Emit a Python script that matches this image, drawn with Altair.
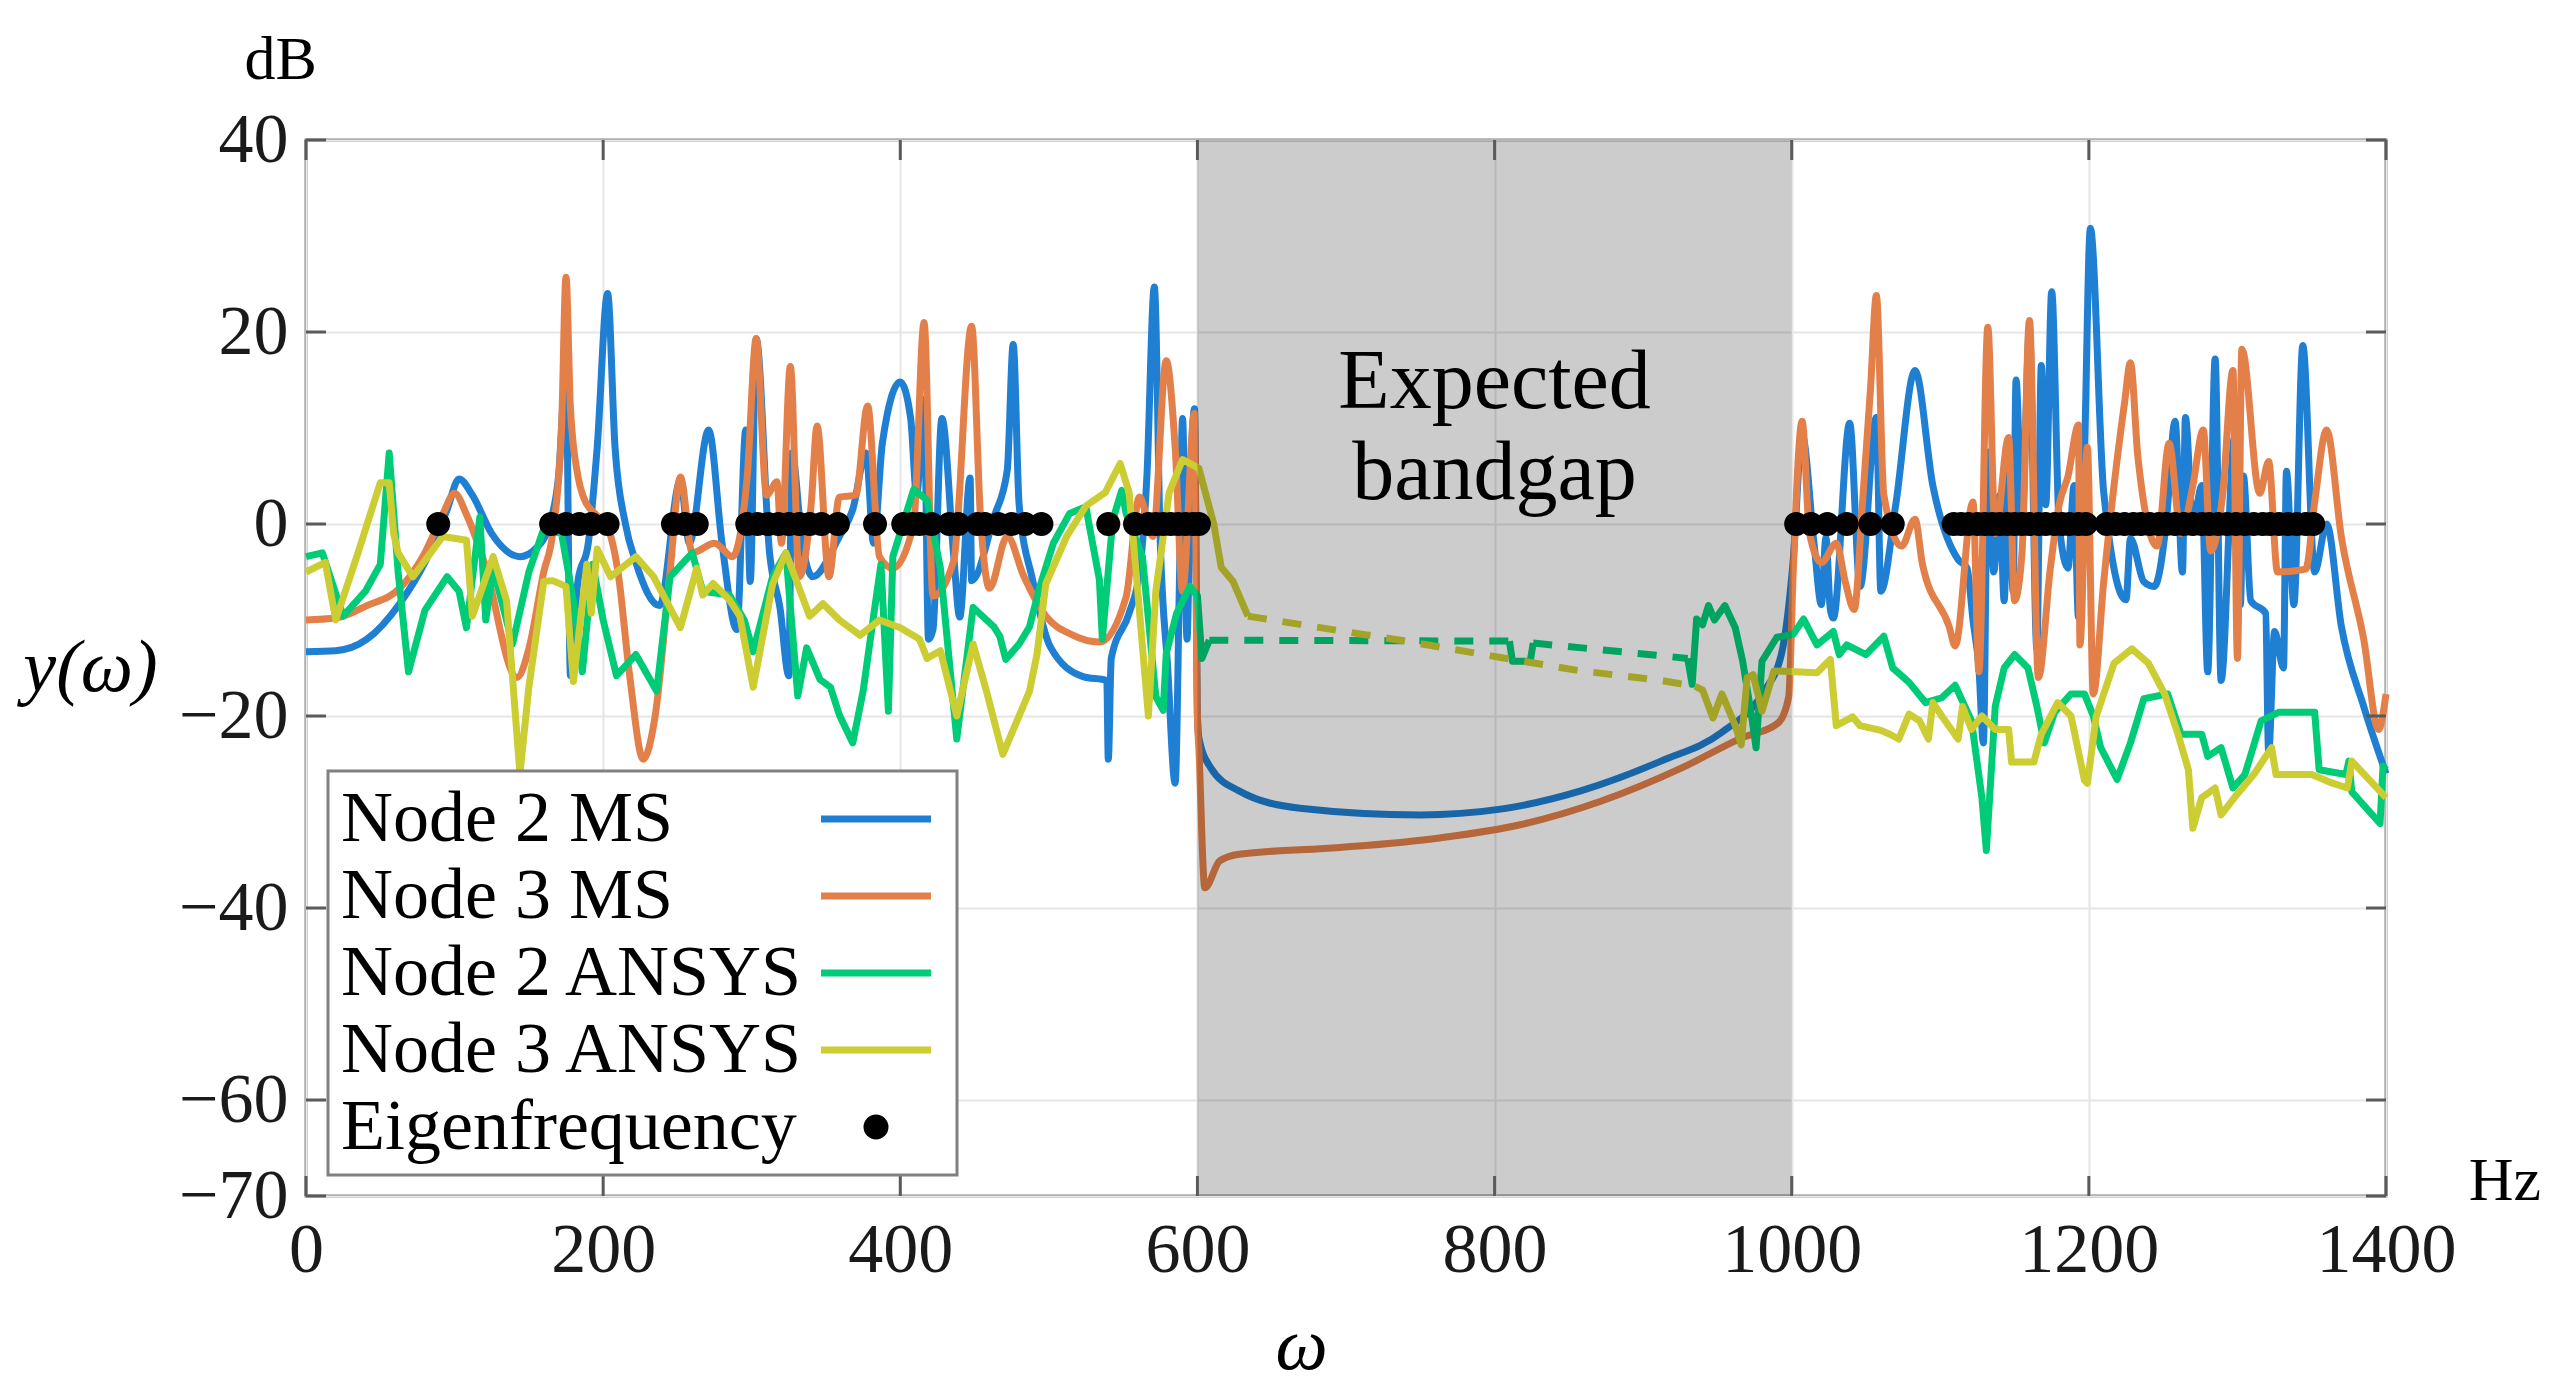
import altair as alt
import pandas as pd

FONT = "Liberation Serif"

SERIES = ["Node 2 MS", "Node 3 MS", "Node 2 ANSYS", "Node 3 ANSYS", "Eigenfrequency"]
COLORS = ["#1f7fd2", "#e3804a", "#00cc77", "#cccc33", "#000000"]
LINE_PATH = "M-2,0L2,0"
DOT_PATH = "M-0.327,0A0.327,0.327,0,1,0,0.327,0A0.327,0.327,0,1,0,-0.327,0Z"
SHAPES = [LINE_PATH, LINE_PATH, LINE_PATH, LINE_PATH, DOT_PATH]

X_TICKS = [0, 200, 400, 600, 800, 1000, 1200, 1400]
Y_TICKS = [-70, -60, -40, -20, 0, 20, 40]

# (Hz, dB)
node2_ms = [(0,-13.3),(20,-13.2),(41,-12),(63,-8.3),(80,-4),(95,1.5),(103,4.7),(112,3),(125,-1),(144,-3.4),(155,-2.5),(164,0),(170,5),(175,16),(178,-15.8),(183,-6),(190,-2),(196,8),(203,24),(208,8),(215,0),(222,-4),(238,-8.5),(252,4.5),(258,-2),(271,9.8),(280,-2),(290,-11),(296,9.8),(299,-6),(303,19.3),(312,-3),(319,-8.7),(325,-15.8),(327,7.4),(334,-2),(341,-5.5),(359,-1.3),(368,1.5),(377,7.4),(382,-2),(388,8.5),(400,14.8),(407,11),(411,3),(416,13),(419,-12),(422,-11),(428,11),(436,-3.4),(440,-9.7),(447,4.8),(448,-5.9),(463,0.7),(472,5.6),(476,18.7),(480,2),(489,-5.8),(501,-12.8),(523,-15.9),(539,-16.3),(540,-24.5),(542,-14),(554,-9.3),(561,-5),(566,5),(571,24.7),(575,-2),(580,-15),(585,-27),(588,-5),(590,11),(593,-12),(595,2),(598,12),(600,-20),(601,-22.3),(609,-25.4),(628,-27.8),(669,-29.6),(750,-30.3),(804,-29.7),(858,-27.8),(912,-24.7),(953,-21.7),(980,-17.7),(993,-13.6),(1001,-3.8),(1007,9.3),(1015,-2),(1020,-8.4),(1023,-1.4),(1026,-8.9),(1028,-9.8),(1039,10.5),(1046,-6.5),(1057,11.1),(1060,-7),(1070,2),(1083,16),(1095,4),(1112,-3.7),(1118,-4.6),(1122,-10),(1126,-15),(1129,-22.8),(1132,7.5),(1136,-5),(1140,3),(1143,-8),(1146,8.4),(1149,-7),(1151,15),(1155,0),(1160,20.3),(1165,-13),(1168,16.5),(1171,2),(1175,24.2),(1180,0),(1186,-4.6),(1190,4),(1193,-9.7),(1197,7),(1201,30.8),(1210,3.3),(1225,-7.9),(1228,-1.5),(1237,-6),(1244,-6.5),(1252,0),(1258,10.7),(1263,-5),(1265,11.1),(1270,0),(1276,4),(1280,-15.4),(1285,17.2),(1289,-16.3),(1298,9),(1302,-8.4),(1304,5),(1309,-8),(1319,-9.3),(1321,-23.8),(1325,-11.2),(1331,-15),(1333,5.5),(1338,-8.4),(1344,18.6),(1352,-5),(1360,0),(1370,-10.7),(1385,-19),(1400,-26)]

node3_ms = [(0,-10),(20,-9.8),(41,-8.5),(63,-6.7),(80,-3),(92,1),(100,3.2),(108,1),(120,-4),(142,-16),(150,-13),(160,-5),(166,-1),(172,10),(175,25.7),(178,12),(183,5),(187,2.7),(195,1),(202,0),(210,-5),(218,-16),(227,-24.5),(235,-20),(245,-5),(252,4.9),(260,-3),(275,-2),(287,-3.4),(297,5),(303,19.3),(310,3),(317,4.4),(320,-2),(326,16.4),(332,-5.5),(340,2),(344,10.2),(352,-5.5),(359,2.8),(370,3),(378,12.3),(386,-3.4),(395,-4.6),(409,0),(416,21),(422,-7.5),(436,-3.8),(448,20.6),(454,0.7),(460,-6.7),(472,-1.3),(483,-5.4),(498,-9.6),(515,-11.5),(534,-12.3),(552,-7.6),(561,2.8),(570,-1.3),(579,17),(585,8),(590,-7),(598,11.5),(600,-20),(601,-23.5),(605,-37.9),(615,-35.1),(628,-34.4),(696,-33.7),(763,-32.7),(818,-31.3),(871,-28.9),(926,-25.4),(966,-22.3),(991,-20.7),(998,-18),(1001,-5),(1007,10.7),(1012,-1),(1020,-4),(1030,-2),(1036,-6),(1042,-8.9),(1048,3),(1053,14),(1057,23.8),(1062,3),(1074,-2.3),(1083,0.5),(1088,-4.2),(1106,-10.7),(1110,-12.7),(1122,2.3),(1126,-15.4),(1132,20.5),(1137,-1),(1146,9),(1150,-8),(1155,-3),(1160,21.2),(1166,-16),(1174,-4.7),(1180,2),(1186,5),(1193,10.3),(1194,-12.6),(1199,8),(1203,-17.7),(1210,-6),(1224,12.6),(1228,16.8),(1233,7),(1246,-2.3),(1254,8.4),(1262,-1),(1270,4),(1277,9.8),(1282,-2.8),(1290,3),(1297,16),(1300,-14),(1303,18.2),(1315,3.2),(1321,6.5),(1327,-5),(1346,-4.7),(1352,2.3),(1360,9.8),(1370,-1.4),(1385,-12),(1395,-21.4),(1400,-17.7)]

node2_ansys_a = [(0,-3.4),(11,-3),(25,-9.6),(40,-7),(50,-4.2),(56,7.4),(62,-5),(69,-15.4),(80,-9),(95,-5.5),(103,-7),(108,-10.8),(117,0.7),(121,-10),(126,-4.6),(139,-12.5),(150,-5),(160,-0.5),(172,-1),(180,-8),(186,-15.4),(193,-4.2),(200,-10),(209,-15.8),(222,-13.6),(236,-17.4),(245,-5.5),(260,-3),(267,-7),(285,-7.4),(295,-10),(301,-13.3),(314,-5.5),(323,-3),(331,-17.9),(337,-12.9),(346,-16.2),(353,-17),(359,-19.9),(368,-22.8),(375,-17.4),(382,-9.6),(387,-4.2),(392,-19.5),(395,-3.4),(409,3.6),(418,2.5),(427,-4.6),(438,-22.4),(449,-8.7),(463,-10.7),(467,-11.7),(471,-14.1),(480,-12.5),(487,-10.7),(494,-6.5),(503,-2),(514,1.1),(525,1.8),(527,0),(534,-5.8),(536,-12),(543,0.4),(549,3.5),(552,1.1),(563,-3.4),(572,-18),(577,-19.4),(579,-13.5),(586,-9.3),(595,-6.5),(600,-7.5),(603,-14),(608,-12.1)]
node2_ansys_dash_a = [(608,-12.1),(810,-12.2)]
node2_ansys_b = [(810,-12.2),(812,-14.3),(824,-14.3),(826,-12.4)]
node2_ansys_dash_b = [(826,-12.4),(930,-14.0)]
node2_ansys_c = [(930,-14),(933,-16.7),(936,-9.9),(940,-10.5),(944,-8.5),(948,-10),(955,-8.5),(962,-10.8),(967,-14.3),(973,-20),(976,-23.3),(980,-14.3),(990,-11.8),(1001,-11.5),(1008,-9.9),(1017,-12.6),(1028,-11.2),(1032,-13.6),(1037,-12.6),(1050,-13.6),(1062,-11.7),(1068,-15),(1079,-16.5),(1090,-18.6),(1101,-18.1),(1110,-16.8),(1121,-20.5),(1128,-28.5),(1131,-34),(1137,-19),(1143,-15),(1150,-13.6),(1159,-15),(1165,-19),(1170,-22.8),(1177,-19.6),(1188,-17.7),(1197,-17.7),(1203,-20),(1208,-23.3),(1219,-26.6),(1228,-22.8),(1237,-18.2),(1253,-17.7),(1262,-21.9),(1276,-21.9),(1280,-24.2),(1289,-23.3),(1297,-27.5),(1305,-26.1),(1316,-20.5),(1328,-19.6),(1352,-19.6),(1355,-25.6),(1373,-26.1),(1375,-24.7),(1377,-27.9),(1396,-31.2),(1398,-25.2),(1400,-25.6)]

node3_ansys_a = [(0,-5),(13,-4),(20,-10),(35,-3),(50,4.3),(56,4.3),(59,-1),(62,-3),(72,-5.5),(92,-1.3),(108,-1.7),(112,-9.6),(126,-3.4),(135,-8),(144,-26),(150,-17),(160,-6),(166,-5.9),(175,-6.5),(180,-16.4),(189,-4.2),(192,-9.3),(196,-2.6),(205,-5.5),(222,-3.4),(234,-5.5),(252,-10.8),(263,-4.6),(267,-7.4),(274,-6.2),(285,-7.9),(292,-9.6),(301,-17),(314,-6.3),(323,-3),(339,-9.6),(348,-8.3),(359,-10),(373,-11.6),(386,-10),(400,-10.8),(413,-12),(418,-14),(427,-13.2),(438,-20),(449,-12.5),(458,-17.4),(469,-24),(487,-17.4),(492,-13.6),(498,-6.2),(512,-1.3),(525,1.9),(538,3.3),(548,6.3),(554,3.3),(559,-5.5),(567,-20),(572,-7),(581,3.3),(590,6.7),(601,5.8),(611,0),(616,-4.5),(624,-6),(634,-9.6)]
node3_ansys_dash = [(634,-9.6),(740,-12.2),(804,-13.9),(858,-15.3),(912,-16.3),(935,-16.9)]
node3_ansys_b = [(935,-16.9),(940,-17.3),(947,-20.2),(953,-17.7),(962,-21),(966,-23),(970,-16),(974,-15.7),(980,-19.5),(988,-15.3),(1017,-15.5),(1026,-14.1),(1030,-21),(1041,-20.1),(1046,-21),(1060,-21.5),(1066,-21.9),(1072,-22.4),(1079,-19.8),(1086,-20.5),(1092,-22.4),(1095,-18.6),(1101,-20),(1112,-22.4),(1115,-19),(1121,-21.4),(1128,-20),(1137,-21.4),(1146,-21.4),(1148,-24.8),(1163,-24.8),(1168,-21.9),(1179,-18.6),(1188,-20),(1197,-26.7),(1199,-27),(1205,-20),(1217,-14.5),(1229,-13),(1240,-14.5),(1251,-17.7),(1260,-21.9),(1267,-25.6),(1270,-31.7),(1276,-28.5),(1285,-27.5),(1289,-30.3),(1298,-28.5),(1311,-26.1),(1323,-23.3),(1326,-26.1),(1350,-26.1),(1364,-27),(1374,-27.5),(1377,-24.7),(1400,-28.5)]

eigen_hz = [89,165,175,184,192,203,247,255,263,297,304,311,318,325,332,339,347,358,383,402,408,413,421,433,439,452,457,466,475,484,495,540,558,567,572,577,582,587,592,597,601,
            1003,1013,1024,1037,1053,1068,1109,1114,1119,1125,1130,1135,1140,1145,1150,1155,1160,1166,1171,1177,1182,1187,1193,1198,
            1212,1218,1224,1230,1235,1241,1247,1252,1258,1264,1270,1276,1281,1287,1293,1299,1305,1311,1317,1322,1328,1334,1340,1346,1351]

band = {"start": 600, "end": 1000, "low": -70, "high": 40}
unit_labels = {"t": ["dB", "Hz"], "f": [-17, 1480], "v": [48.3, -68.4]}
band_text = {"t": ["Expected", "bandgap"], "f": [800, 800], "v": [12.1, 2.6]}

X_MIN, X_MAX, Y_MIN, Y_MAX = 0, 1400, -70, 40
W, H = 2080, 1056
TICK_PX = 20
tick_dx = TICK_PX * (X_MAX - X_MIN) / W
tick_dy = TICK_PX * (Y_MAX - Y_MIN) / H


def frame(name, pts, seg):
    return pd.DataFrame({"f": [p[0] for p in pts], "v": [p[1] for p in pts], "s": name, "g": seg})


xaxis = alt.Axis(values=X_TICKS, format="d", title="ω", titleFontStyle="italic", titleFontSize=74,
                 titleX=995, titleY=150, titleBaseline="middle", titleAlign="center",
                 labelPadding=20, labelFlush=False, grid=True)
yaxis = alt.Axis(values=Y_TICKS, format="d", title="y(ω)", titleFontStyle="italic", titleFontSize=74,
                 titleAngle=0, titleX=-216, titleY=528, titleAlign="center", titleBaseline="middle",
                 labelPadding=18, labelFlush=False, grid=True)
X = alt.X("f:Q", scale=alt.Scale(domain=[X_MIN, X_MAX], nice=False, zero=False), axis=xaxis)
Y = alt.Y("v:Q", scale=alt.Scale(domain=[Y_MIN, Y_MAX], nice=False, zero=False), axis=yaxis)

LEG = alt.Legend(title=None, orient="none", legendX=22, legendY=631, symbolOffset=500,
                 labelOffset={"expr": "-571"}, symbolSize=3025, symbolStrokeWidth=7, labelFont=FONT,
                 labelFontSize=72, labelColor="black", labelLimit=1000, rowPadding=5,
                 padding=12, fillColor="white", strokeColor="#808080")
cscale = alt.Scale(domain=SERIES, range=COLORS)
C = alt.Color("s:N", scale=cscale, legend=LEG)
C_nolegend = alt.Color("s:N", scale=cscale, legend=None)


def solid(df, interp):
    return alt.Chart(df).mark_line(strokeWidth=7, interpolate=interp, strokeJoin="round").encode(
        x=X, y=Y, color=C, detail="g:N")


def dashed(df):
    return alt.Chart(df).mark_line(strokeWidth=7, strokeDash=[19, 16]).encode(
        x=X, y=Y, color=C_nolegend, detail="g:N")


l_blue = solid(frame(SERIES[0], node2_ms, "a"), "monotone")
l_orange = solid(frame(SERIES[1], node3_ms, "a"), "monotone")
l_green = solid(pd.concat([frame(SERIES[2], node2_ansys_a, "a"),
                           frame(SERIES[2], node2_ansys_b, "b"),
                           frame(SERIES[2], node2_ansys_c, "c")]), "linear")
l_yellow = solid(pd.concat([frame(SERIES[3], node3_ansys_a, "a"),
                            frame(SERIES[3], node3_ansys_b, "b")]), "linear")
d_green = dashed(pd.concat([frame(SERIES[2], node2_ansys_dash_a, "da"),
                            frame(SERIES[2], node2_ansys_dash_b, "db")]))
d_yellow = dashed(frame(SERIES[3], node3_ansys_dash, "da"))

band_df = pd.DataFrame({"f": [band["start"]], "f2": [band["end"]], "v": [band["low"]], "v2": [band["high"]]})
rect = alt.Chart(band_df).mark_rect(color="black", opacity=0.2).encode(
    x=X, x2="f2:Q", y=Y, y2="v2:Q")

# inward tick marks on all four sides of the box (at the axis tick values)
tick_rows = []
for t in Y_TICKS:
    tick_rows.append({"f": X_MIN, "f2": X_MIN + tick_dx, "v": t, "v2": t})
    tick_rows.append({"f": X_MAX - tick_dx, "f2": X_MAX, "v": t, "v2": t})
for t in X_TICKS:
    tick_rows.append({"f": t, "f2": t, "v": Y_MIN, "v2": Y_MIN + tick_dy})
    tick_rows.append({"f": t, "f2": t, "v": Y_MAX - tick_dy, "v2": Y_MAX})
ticks = alt.Chart(pd.DataFrame(tick_rows)).mark_rule(color="#5a5a5a", strokeWidth=3).encode(
    x=X, x2="f2:Q", y=Y, y2="v2:Q")

eig_df = pd.DataFrame({"f": eigen_hz, "v": [0] * len(eigen_hz), "s": SERIES[4]})
points = alt.Chart(eig_df).mark_point(filled=True, size=3025, strokeWidth=6, opacity=1).encode(
    x=X, y=Y, color=C,
    stroke=alt.Stroke("s:N", scale=alt.Scale(domain=SERIES, range=COLORS), legend=LEG),
    shape=alt.Shape("s:N", scale=alt.Scale(domain=SERIES, range=SHAPES), legend=LEG))

units = alt.Chart(pd.DataFrame(unit_labels)).mark_text(
    font=FONT, fontSize=62, color="black", align="center", baseline="middle").encode(
    x=X, y=Y, text="t:N")
btext = alt.Chart(pd.DataFrame(band_text)).mark_text(
    font=FONT, fontSize=84, color="black", align="center", baseline="alphabetic").encode(
    x=X, y=Y, text="t:N")

chart = alt.layer(l_blue, l_orange, l_green, l_yellow, d_green, d_yellow, rect, ticks, points, units, btext).properties(
    width=W, height=H,
    autosize=alt.AutoSizeParams(type="none"),
    padding={"left": 298, "top": 132, "right": 165, "bottom": 190},
    background="white",
).configure_view(stroke="#808080", strokeWidth=3).configure_axis(
    labelFont=FONT, labelFontSize=70, labelColor="#1a1a1a", titleFont=FONT, titleColor="black",
    titleFontWeight="normal", gridColor="#e6e6e6", gridWidth=2, domain=False, ticks=False
).configure_legend(strokeWidth=3)

chart.save("out.html", embed_options={"renderer": "svg", "actions": False})
